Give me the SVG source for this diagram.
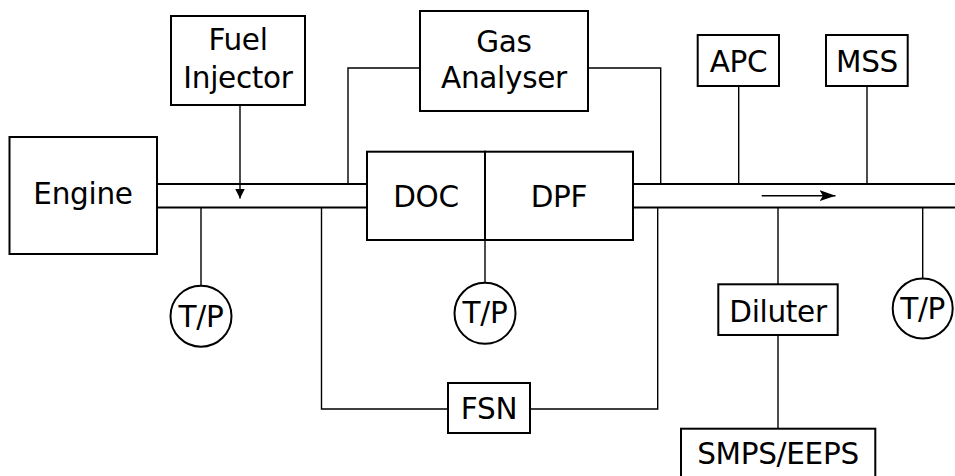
<svg xmlns="http://www.w3.org/2000/svg" width="955" height="476" viewBox="0 0 955 476">
<defs>
<style>
.box{fill:#fff;stroke:#000;stroke-width:2}
.pipe{fill:none;stroke:#000;stroke-width:2}
.ln{fill:none;stroke:#000;stroke-width:1.4}
text{font-family:"DejaVu Sans","Liberation Sans",sans-serif;font-size:29.5px;fill:#000;text-anchor:middle;letter-spacing:-0.3px}
</style>
<marker id="ah" viewBox="0 0 10 11" refX="10" refY="5.5" markerWidth="10" markerHeight="11" markerUnits="userSpaceOnUse" orient="auto">
<path d="M0,0.5 L10,5.5 L0,10.5 Z" fill="#000"/>
</marker>
<marker id="ah2" viewBox="0 0 16 12" refX="16" refY="6" markerWidth="16" markerHeight="12" markerUnits="userSpaceOnUse" orient="auto">
<path d="M0,0.5 L16,6 L0,11.5 L3.5,6 Z" fill="#000"/>
</marker>
</defs>
<rect width="955" height="476" fill="#fff"/>
<g id="connectors">
<path class="pipe" d="M157,184 H367 M157,207.5 H367"/>
<path class="pipe" d="M633,184 H956 M633,207.5 H956"/>
<path class="ln" d="M240,105 V198.5" marker-end="url(#ah)"/>
<path class="ln" d="M348,184 V68 H420"/>
<path class="ln" d="M588,68 H660.7 V184"/>
<path class="ln" d="M201,207.5 V285.5"/>
<path class="ln" d="M321.5,207.5 V409 H448"/>
<path class="ln" d="M530,409 H657.7 V207.5"/>
<path class="ln" d="M485,240 V282.5"/>
<path class="ln" d="M738.7,86 V184"/>
<path class="ln" d="M867,86 V184"/>
<path class="ln" d="M778,207.5 V284.3"/>
<path class="ln" d="M778,335 V428.7"/>
<path class="ln" d="M922.7,207.5 V278.3"/>
<path class="ln" d="M761.7,195.7 H835.5" marker-end="url(#ah2)"/>
</g>
<g id="engine"><rect class="box" x="9.5" y="137" width="147.5" height="117"/><text x="83" y="204.3">Engine</text></g>
<g id="fuel-injector"><rect class="box" x="171" y="16" width="134" height="89"/><text x="238" y="50">Fuel</text><text x="238" y="87.5">Injector</text></g>
<g id="gas-analyser"><rect class="box" x="420" y="11" width="168" height="100"/><text x="504" y="51.7">Gas</text><text x="504" y="87.5">Analyser</text></g>
<g id="doc"><rect class="box" x="367" y="151.7" width="118" height="88.3"/><text x="426" y="206.5">DOC</text></g>
<g id="dpf"><rect class="box" x="485" y="151.7" width="148" height="88.3"/><text x="559" y="206.5">DPF</text></g>
<g id="apc"><rect class="box" x="697.7" y="35" width="81.3" height="51"/><text x="738.5" y="71.5">APC</text></g>
<g id="mss"><rect class="box" x="826" y="35" width="81.7" height="51"/><text x="867" y="71.5">MSS</text></g>
<g id="tp1"><circle class="box" cx="201" cy="316.2" r="30.5"/><text x="201" y="326.5">T/P</text></g>
<g id="tp2"><circle class="box" cx="485" cy="313.3" r="30.5"/><text x="485" y="323">T/P</text></g>
<g id="tp3"><circle class="box" cx="922.7" cy="308.5" r="30"/><text x="922.7" y="318.5">T/P</text></g>
<g id="fsn"><rect class="box" x="448" y="383" width="82" height="50"/><text x="489" y="418.5">FSN</text></g>
<g id="diluter"><rect class="box" x="718.3" y="284.3" width="119.4" height="50.7"/><text x="778" y="321.5">Diluter</text></g>
<g id="smps-eeps"><rect class="box" x="681" y="428.7" width="194.3" height="55"/><text x="778" y="463.5">SMPS/EEPS</text></g>
</svg>
